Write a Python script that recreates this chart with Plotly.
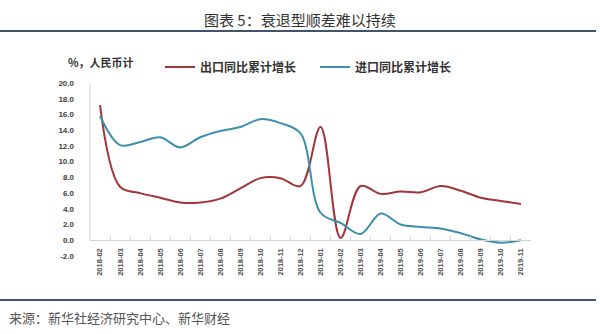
import plotly.graph_objects as go

# Monthly year-to-date growth, %, RMB basis
months = ["2018-02", "2018-03", "2018-04", "2018-05", "2018-06", "2018-07",
          "2018-08", "2018-09", "2018-10", "2018-11", "2018-12", "2019-01",
          "2019-02", "2019-03", "2019-04", "2019-05", "2019-06", "2019-07",
          "2019-08", "2019-09", "2019-10", "2019-11"]
exports_ytd = [17.2, 6.8, 6.0, 5.4, 4.8, 4.8, 5.3, 6.6, 7.9, 7.9, 6.9, 14.4,
               0.3, 6.9, 5.9, 6.2, 6.1, 6.9, 6.3, 5.4, 5.0, 4.6]
imports_ytd = [15.8, 12.1, 12.5, 13.1, 11.8, 13.1, 13.9, 14.4, 15.4, 14.9, 13.6, 3.5,
               2.2, 0.8, 3.4, 2.0, 1.7, 1.5, 0.9, 0.1, -0.3, 0.0]
y_ticks = [-2, 0, 2, 4, 6, 8, 10, 12, 14, 16, 18, 20]

W, H = 600, 334
ML, MR, MT, MB = 90, 69, 83, 78
PW, PH = W - ML - MR, H - MT - MB
Y_MIN, Y_MAX = -2, 20


def px_x(x):
    return (x - ML) / PW


def px_y(y):
    return (H - MB - y) / PH


CJK = "Noto Sans CJK SC"
RED = "#A3353A"
BLUE = "#3E8EAE"

fig = go.Figure()
fig.add_trace(go.Scatter(x=months, y=exports_ytd, name="出口同比累计增长",
                         mode="lines", line=dict(color=RED, width=2, shape="spline", smoothing=1)))
fig.add_trace(go.Scatter(x=months, y=imports_ytd, name="进口同比累计增长",
                         mode="lines", line=dict(color=BLUE, width=2, shape="spline", smoothing=1)))

fig.update_layout(
    width=W, height=H,
    margin=dict(l=ML, r=MR, t=MT, b=MB),
    paper_bgcolor="white", plot_bgcolor="white",
    font=dict(family=CJK, color="#404040"),
    showlegend=True,
    legend=dict(orientation="h", x=px_x(160), y=px_y(67), xanchor="left", yanchor="middle",
                font=dict(family=CJK, size=12, color="#333333", weight="bold"),
                entrywidth=110, bgcolor="rgba(0,0,0,0)"),
    xaxis=dict(
        type="category", range=[-0.5, len(months) - 0.5],
        anchor="free", position=(0 - Y_MIN) / (Y_MAX - Y_MIN),
        showline=True, linecolor="#D4D4D4", linewidth=1,
        ticks="inside", ticklen=4, tickcolor="#D4D4D4", tickson="boundaries",
        tickangle=-90, ticklabelstandoff=4,
        tickfont=dict(family="Liberation Sans", size=7.5, color="#505050", weight="bold"),
        showgrid=False, zeroline=False,
    ),
    yaxis=dict(
        range=[Y_MIN, Y_MAX], tickvals=y_ticks,
        ticktext=[f"{v:.1f}" for v in y_ticks],
        showline=False, showgrid=False, zeroline=False,
        ticks="", ticklabelstandoff=15,
        tickfont=dict(family="Liberation Sans", size=8, color="#404040", weight="bold"),
    ),
)

# vertical axis line from 0 up to the top of the value range
fig.add_shape(type="line", xref="paper", yref="y", x0=0, x1=0, y0=0, y1=Y_MAX,
              line=dict(color="#D4D4D4", width=1))

# header and footer rules
for yy in (31, 300):
    fig.add_shape(type="line", xref="paper", yref="paper",
                  x0=px_x(0), x1=px_x(596), y0=px_y(yy), y1=px_y(yy),
                  line=dict(color="#41546F", width=2))

fig.add_annotation(text="图表 5：衰退型顺差难以持续", xref="paper", yref="paper",
                   x=px_x(300), y=px_y(19), xanchor="center", yanchor="middle",
                   showarrow=False, font=dict(family=CJK, size=15, color="#333333"))
fig.add_annotation(text="%，人民币计", xref="paper", yref="paper",
                   x=px_x(66), y=px_y(62), xanchor="left", yanchor="middle",
                   showarrow=False, font=dict(family=CJK, size=11, color="#333333", weight="bold"))
fig.add_annotation(text="来源：新华社经济研究中心、新华财经", xref="paper", yref="paper",
                   x=px_x(7), y=px_y(317), xanchor="left", yanchor="middle",
                   showarrow=False, font=dict(family=CJK, size=13, color="#555555"))

fig.write_html("out.html")
